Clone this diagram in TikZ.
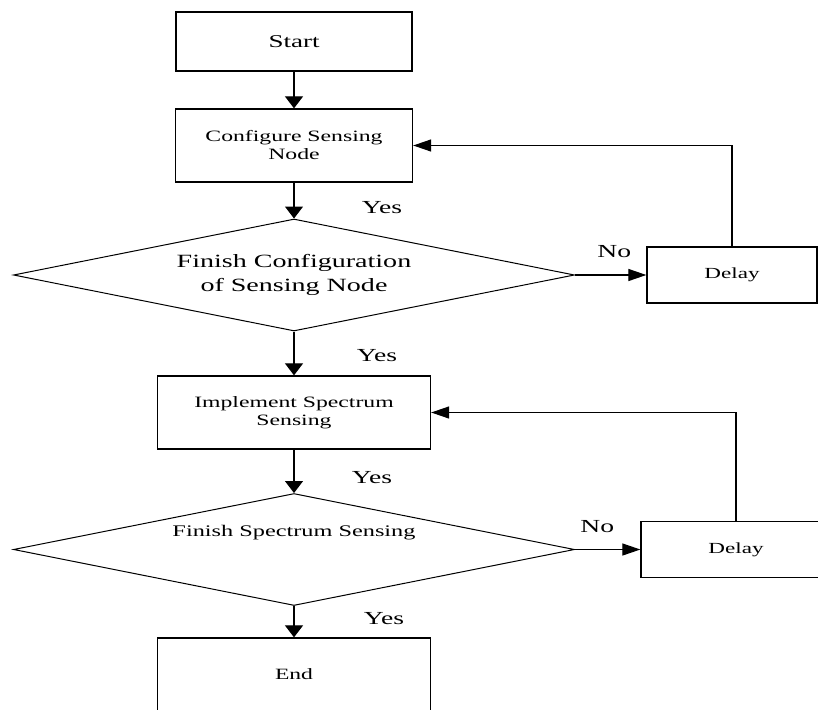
\documentclass[tikz,border=0pt]{standalone}
\usepackage{fontspec}
\setmainfont[FakeStretch=1.5]{Liberation Serif}
\usepackage{tikz}
\usetikzlibrary{arrows.meta,positioning,shapes.geometric}
\tikzstyle{StepNode} =[draw,line width=1.3pt,rectangle,inner sep=0pt,align=center]
\tikzstyle{CheckNode} =[draw,line width=1pt,diamond,aspect=5,inner sep=0pt,minimum width=561pt,minimum height=112pt,align=center]
\tikzstyle{DelayNode} =[StepNode,minimum height=56pt,font=\fontsize{15.4}{18}\selectfont]
\tikzstyle{DownFlow} =[line width=1.2pt,-{Triangle[length=12pt,width=18pt]}]
\tikzstyle{SideFlow} =[line width=1.2pt,-{Triangle[length=18pt,width=12pt]}]
\tikzstyle{FlowLabel} =[font=\fontsize{18.4}{20}\selectfont]

\begin{document}
\begin{tikzpicture}[x=1pt,y=-1pt,on grid]
    \useasboundingbox (0,0) rectangle (818,709);
    \node[StepNode,minimum width=236pt,minimum height=59pt,font=\fontsize{18}{20}\selectfont](Start) at (294,41.5){Start};
    \node[StepNode,minimum width=237pt,minimum height=73pt,font=\fontsize{15.8}{18}\selectfont,below=104pt of Start](Configure-Node){Configure Sensing\\Node};
    \node[CheckNode,font=\fontsize{18.7}{24}\selectfont,below=129.5pt of Configure-Node](Config-Check){Finish Configuration\\of Sensing Node};
    \node[DelayNode,minimum width=170pt,right=438pt of Config-Check](Config-Delay){Delay};
    \node[StepNode,minimum width=273pt,minimum height=73pt,font=\fontsize{15.8}{18}\selectfont,below=137.5pt of Config-Check](Sensing-Step){Implement Spectrum\\Sensing};
    \node[CheckNode,below=137pt of Sensing-Step,label={[yshift=16.5pt,font=\fontsize{16.2}{18}\selectfont]center:Finish Spectrum Sensing}](Sensing-Check){};
    \node[DelayNode,minimum width=190pt,right=442pt of Sensing-Check](Sensing-Delay){Delay};
    \node[StepNode,minimum width=273pt,minimum height=73pt,font=\fontsize{15.7}{18}\selectfont,below=125pt of Sensing-Check](End){End};

    \draw[DownFlow] (Start) -- (Configure-Node);
    \draw[DownFlow] (Configure-Node) -- node[FlowLabel,pos=0.7,right=64pt]{Yes} (Config-Check);
    \draw[SideFlow] (Config-Check) -- node[FlowLabel,pos=0.55,above=13pt]{No} (Config-Delay);
    \draw[SideFlow] (Config-Delay.north) |- (Configure-Node.east);
    \draw[DownFlow] (Config-Check) -- node[FlowLabel,pos=0.56,right=59pt]{Yes} (Sensing-Step);
    \draw[DownFlow] (Sensing-Step) -- node[FlowLabel,pos=0.64,right=54pt]{Yes} (Sensing-Check);
    \draw[SideFlow] (Sensing-Check) -- node[FlowLabel,pos=0.34,above=12.5pt]{No} (Sensing-Delay);
    \draw[SideFlow] (Sensing-Delay.north) |- (Sensing-Step.east);
    \draw[DownFlow] (Sensing-Check) -- node[FlowLabel,pos=0.4,right=66pt]{Yes} (End);
\end{tikzpicture}
\end{document}
